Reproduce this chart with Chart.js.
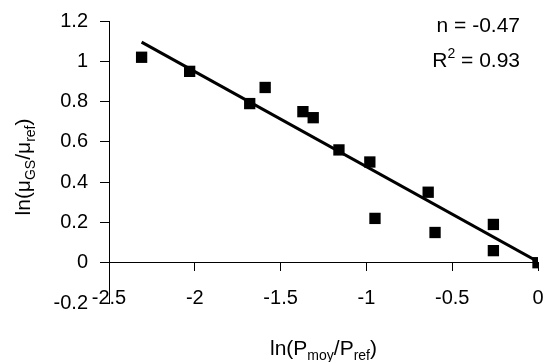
<!DOCTYPE html>
<html>
<head>
<meta charset="utf-8">
<script src="https://cdn.jsdelivr.net/npm/chart.js@4"></script>
<style>
  html, body { margin: 0; padding: 0; background: #fff; }
  #wrap { width: 544px; height: 362px; position: relative; }
</style>
</head>
<body>
<div id="wrap"><canvas id="chart"></canvas></div>
<script>
// ln(Pmoy/Pref) vs ln(muGS/muref)
const xVals = [-2.31, -2.03, -1.68, -1.59, -1.37, -1.31, -1.16, -0.98, -0.95, -0.64, -0.60, -0.26, -0.26, 0.0];
const yVals = [1.02, 0.95, 0.79, 0.87, 0.75, 0.72, 0.56, 0.50, 0.22, 0.35, 0.15, 0.19, 0.06, 0.00];

// power-law fit line (end points)
const fitX = [-2.31, 0.0];
const fitY = [1.095, 0.005];

const xTicks = [-2.5, -2, -1.5, -1, -0.5, 0];
const yTicks = [-0.2, 0, 0.2, 0.4, 0.6, 0.8, 1, 1.2];

const fitText = ['n = -0.47', 'R', '2', ' = 0.93'];

const FONT = 'Liberation Sans, Arial, sans-serif';

function richText(ctx, parts, x, y, size, align) {
  // parts: [text, mode] where mode is '', 'sub' or 'sup'
  let total = 0;
  const widths = parts.map(([t, m]) => {
    ctx.font = (m ? Math.round(size * 0.65) : size) + 'px ' + FONT;
    const w = ctx.measureText(t).width;
    total += w;
    return w;
  });
  let cx = align === 'center' ? x - total / 2 : align === 'right' ? x - total : x;
  parts.forEach(([t, m], i) => {
    ctx.font = (m ? Math.round(size * 0.65) : size) + 'px ' + FONT;
    let dy = 0;
    if (m === 'sub') dy = size * 0.22;
    if (m === 'sup') dy = -size * 0.42;
    ctx.fillText(t, cx, y + dy);
    cx += widths[i];
  });
}

const textPlugin = {
  id: 'texts',
  afterDraw(chart) {
    const ctx = chart.ctx;
    const a = chart.chartArea;
    ctx.save();
    ctx.fillStyle = '#000';
    ctx.textBaseline = 'alphabetic';
    ctx.textAlign = 'left';
    // fit annotation
    richText(ctx, [[fitText[0], '']], a.right - 18, 32, 21, 'right');
    richText(ctx, [[fitText[1], ''], [fitText[2], 'sup'], [fitText[3], '']], a.right - 18, 67, 21, 'right');
    // x title
    richText(ctx, [['ln(P', ''], ['moy', 'sub'], ['/P', ''], ['ref', 'sub'], [')', '']],
      (a.left + a.right) / 2, 355, 21, 'center');
    // y title
    ctx.translate(30, 167);
    ctx.rotate(-Math.PI / 2);
    richText(ctx, [['ln(\u03bc', ''], ['GS', 'sub'], ['/\u03bc', ''], ['ref', 'sub'], [')', '']],
      0, 0, 21, 'center');
    ctx.restore();
  }
};

const fmt = v => String(Math.round(v * 10) / 10);

new Chart(document.getElementById('chart'), {
  type: 'scatter',
  data: {
    datasets: [{
      label: 'data',
      data: xVals.map((x, i) => ({ x: x, y: yVals[i] })),
      pointStyle: 'rect',
      pointRadius: 8,
      pointBorderWidth: 0,
      backgroundColor: '#000',
      borderColor: '#000'
    }, {
      label: 'fit',
      type: 'line',
      data: fitX.map((x, i) => ({ x: x, y: fitY[i] })),
      borderColor: '#000',
      borderWidth: 3,
      pointRadius: 0,
      fill: false
    }]
  },
  options: {
    responsive: true,
    maintainAspectRatio: false,
    animation: false,
    layout: { autoPadding: false, padding: { top: 21, right: 6, bottom: 59, left: 0 } },
    plugins: {
      legend: { display: false },
      tooltip: { enabled: false }
    },
    scales: {
      x: {
        type: 'linear',
        position: { y: 0 },
        min: -2.5,
        max: 0,
        afterBuildTicks: s => { s.ticks = xTicks.map(v => ({ value: v })); },
        afterFit: s => { s.paddingLeft = 0; s.paddingRight = 0; },
        ticks: {
          color: '#000',
          padding: 16,
          maxRotation: 0,
          callback: fmt,
          font: { family: FONT, size: 20 }
        },
        grid: { drawOnChartArea: false, color: '#000', tickLength: 8 },
        border: { color: '#000', width: 1 }
      },
      y: {
        type: 'linear',
        position: 'left',
        min: -0.2,
        max: 1.2,
        afterBuildTicks: s => { s.ticks = yTicks.map(v => ({ value: v })); },
        afterFit: s => { s.width = 109; s.paddingTop = 0; s.paddingBottom = 0; },
        ticks: {
          color: '#000',
          padding: 12,
          callback: fmt,
          font: { family: FONT, size: 20 }
        },
        grid: { drawOnChartArea: false, color: '#000', tickLength: 9 },
        border: { color: '#000', width: 1 }
      }
    }
  },
  plugins: [textPlugin]
});
</script>
</body>
</html>
